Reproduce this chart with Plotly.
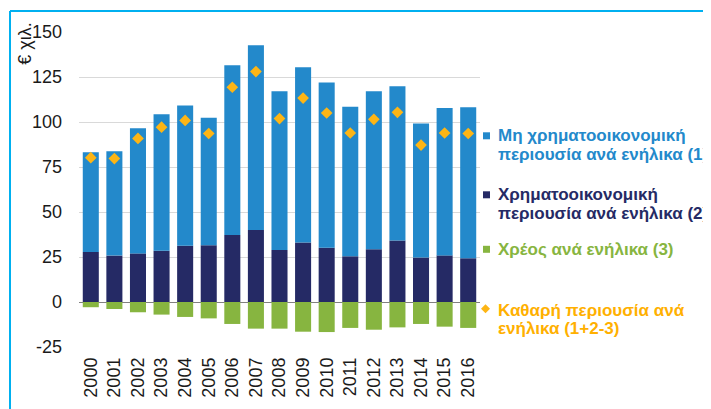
import plotly.graph_objects as go

years = [str(y) for y in range(2000, 2017)]
non_financial = [55.4, 57.9, 69.5, 75.8, 77.8, 70.9, 94.3, 102.6, 88.2, 97.4,
                 91.7, 83.1, 87.8, 85.7, 74.4, 81.9, 83.9]
financial = [27.8, 25.8, 27.0, 28.5, 31.3, 31.5, 37.2, 40.0, 28.9, 33.0,
             30.2, 25.4, 29.3, 34.1, 24.7, 25.9, 24.3]
debt = [-2.9, -3.9, -5.7, -7.0, -8.3, -9.1, -12.2, -14.8, -14.8, -16.5,
        -16.7, -14.4, -15.4, -14.1, -12.2, -13.7, -14.4]
net_wealth = [80.2, 79.7, 90.9, 97.1, 100.9, 93.6, 119.3, 128.0, 101.9, 113.3,
              105.0, 93.9, 101.5, 105.4, 87.2, 93.9, 93.6]
y_ticks = [-25, 0, 25, 50, 75, 100, 125, 150]
y_tick_labels = ["-25", "0", "25", "50", "75", "100", "125", "150"]

legend_lines = [
    ["Μη χρηματοοικονομική", "περιουσία ανά ενήλικα (1)"],
    ["Χρηματοοικονομική", "περιουσία ανά ενήλικα (2)"],
    ["Χρέος ανά ενήλικα (3)"],
    ["Καθαρή περιουσία ανά", "ενήλικα (1+2-3)"],
]
names = [" ".join(l) for l in legend_lines]

C_LIGHT = "#2389CB"
C_DARK = "#252A65"
C_GREEN = "#87B540"
C_ORANGE = "#FDB515"
C_ORANGE_TXT = "#FFB000"
FONT = "Liberation Sans, Arial, sans-serif"

# page offset (browser body margin)
OFF = 8
W, H = 711 - OFF, 409 - OFF
# plot area in page pixels
PL, PR, PT, PB = 79, 480, 31.7, 346.7
L, R, T, B = PL - OFF, PR - OFF, PT - OFF, PB - OFF


def px(x):
    """page x pixel -> paper coordinate"""
    return (x - PL) / (PR - PL)


def py(y):
    """page y pixel -> paper coordinate"""
    return (PB - y) / (PB - PT)


fig = go.Figure()
fig.add_trace(go.Bar(x=years, y=financial, name=names[1], marker_color=C_DARK,
                     marker_line_width=0, showlegend=False))
fig.add_trace(go.Bar(x=years, y=non_financial, name=names[0], marker_color=C_LIGHT,
                     marker_line_width=0, showlegend=False))
fig.add_trace(go.Bar(x=years, y=debt, name=names[2], marker_color=C_GREEN,
                     marker_line_width=0, showlegend=False))
fig.add_trace(go.Scatter(x=years, y=net_wealth, name=names[3], mode="markers",
                         marker=dict(symbol="diamond", size=9, color=C_ORANGE,
                                     line_width=0),
                         showlegend=False))

# legend drawn as text lines + small markers
legend_pos = [[135.5, 154.5], [194.5, 213.5], [249.0], [310.0, 328.5]]
legend_cols = [C_LIGHT, C_DARK, C_GREEN, C_ORANGE_TXT]
legend_kind = ["square", "square", "square", "diamond"]
annotations = []
shapes = []
for lines, ys, col, kind in zip(legend_lines, legend_pos, legend_cols, legend_kind):
    for text, cy in zip(lines, ys):
        annotations.append(dict(
            x=px(496), y=py(cy), xref="paper", yref="paper",
            xanchor="left", yanchor="middle", align="left", showarrow=False,
            text="<b>" + text + "</b>",
            font=dict(family=FONT, size=17, color=col)))
    cy = ys[0]
    if kind == "square":
        shapes.append(dict(type="rect", xref="paper", yref="paper",
                           x0=px(483), x1=px(490), y0=py(cy + 3.5), y1=py(cy - 3.5),
                           fillcolor=col, line_width=0))
    else:
        cx, cyd, hr = 485.5, cy - 1.5, 4.5
        path = "M {} {} L {} {} L {} {} L {} {} Z".format(
            px(cx - hr), py(cyd), px(cx), py(cyd - hr),
            px(cx + hr), py(cyd), px(cx), py(cyd + hr))
        shapes.append(dict(type="path", xref="paper", yref="paper", path=path,
                           fillcolor=C_ORANGE, line_width=0))

# y-axis unit label
annotations.append(dict(
    x=px(25), y=py(20.5), xref="paper", yref="paper", xanchor="center", yanchor="top",
    textangle=-90, showarrow=False, text="€ χιλ.",
    font=dict(family=FONT, size=18, color="#1a1a1a")))

# light blue frame (top and left edges visible)
shapes.append(dict(type="line", xref="paper", yref="paper",
                   x0=px(10), x1=px(740), y0=py(10.8), y1=py(10.8),
                   line=dict(color="#00B0F0", width=2)))
shapes.append(dict(type="line", xref="paper", yref="paper",
                   x0=px(10), x1=px(10), y0=py(10.8), y1=py(440),
                   line=dict(color="#00B0F0", width=2)))

fig.update_layout(
    width=W, height=H,
    margin=dict(l=L, r=W - R, t=T, b=H - B, pad=0),
    barmode="relative", bargap=0.32,
    plot_bgcolor="white", paper_bgcolor="white",
    font=dict(family=FONT, size=18, color="#1a1a1a"),
    showlegend=False,
    annotations=annotations, shapes=shapes,
)
fig.update_xaxes(type="category", range=[-0.5, len(years) - 0.5], tickangle=-90,
                 showgrid=False, showline=False, ticks="", ticklabelstandoff=6,
                 automargin=False,
                 tickfont=dict(family=FONT, size=18, color="#1a1a1a"))
fig.update_yaxes(range=[-25, 150], tickvals=y_ticks, ticktext=y_tick_labels,
                 showgrid=True, gridcolor="#D9D9D9", gridwidth=1, zeroline=True,
                 zerolinecolor="#808080", zerolinewidth=1, showline=False,
                 ticks="", ticklabelstandoff=16, automargin=False,
                 tickfont=dict(family=FONT, size=18, color="#1a1a1a"))

fig.write_html("out.html")
